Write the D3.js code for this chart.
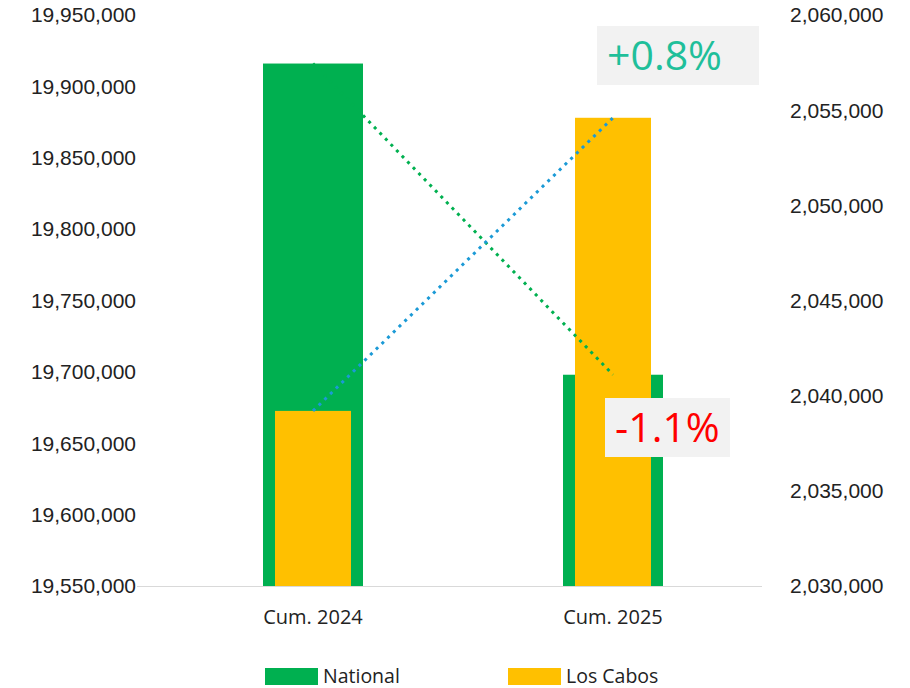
<!DOCTYPE html>
<html lang="en">
<head>
    <meta charset="UTF-8">
    <title>National vs Los Cabos</title>
    <script src="https://d3js.org/d3.v7.min.js"></script>
    <style>
        body {
            margin: 0;
            background-color: #ffffff;
            font-family: "Liberation Sans", Arial, sans-serif;
        }
        .tick-label {
            font-size: 21px;
            fill: #222;
        }
        .cat-label {
            font-family: "Open Sans", sans-serif;
            font-size: 20px;
            fill: #222;
        }
        .legend {
            font-family: "Open Sans", sans-serif;
            font-size: 19.5px;
            fill: #222;
        }
    </style>
</head>
<body>
    <svg width="910" height="688"></svg>
    <script>
        // Data
        const categories = ["Cum. 2024", "Cum. 2025"];
        const nationalValues = [19916000, 19698000];
        const losCabosValues = [2039200, 2054600];
        const leftTicks = [19550000, 19600000, 19650000, 19700000, 19750000, 19800000, 19850000, 19900000, 19950000];
        const rightTicks = [2030000, 2035000, 2040000, 2045000, 2050000, 2055000, 2060000];
        const changeLabels = ["+0.8%", "-1.1%"];

        const svg = d3.select("svg");

        const plotTop = 15, plotBottom = 586;

        // Scales
        const x = d3.scaleBand()
                    .domain(categories)
                    .range([163, 763]);

        const yLeft = d3.scaleLinear()
                        .domain([19550000, 19950000])
                        .range([plotBottom, plotTop]);

        const yRight = d3.scaleLinear()
                         .domain([2030000, 2060000])
                         .range([plotBottom, plotTop]);

        const fmt = d3.format(",");

        // Left axis labels
        svg.append("g")
           .selectAll("text")
           .data(leftTicks)
           .enter()
           .append("text")
           .attr("class", "tick-label")
           .attr("x", 136)
           .attr("y", d => yLeft(d))
           .attr("dy", "0.35em")
           .attr("text-anchor", "end")
           .text(d => fmt(d));

        // Right axis labels
        svg.append("g")
           .selectAll("text")
           .data(rightTicks)
           .enter()
           .append("text")
           .attr("class", "tick-label")
           .attr("x", 790)
           .attr("y", d => yRight(d))
           .attr("dy", "0.35em")
           .attr("text-anchor", "start")
           .text(d => fmt(d));

        const cx = d => x(d) + x.bandwidth() / 2;

        // National bars (primary axis)
        svg.append("g")
           .selectAll("rect")
           .data(categories)
           .enter()
           .append("rect")
           .attr("x", d => cx(d) - 50)
           .attr("width", 100)
           .attr("y", (d, i) => yLeft(nationalValues[i]))
           .attr("height", (d, i) => plotBottom - yLeft(nationalValues[i]))
           .attr("fill", "#00b050");

        // Los Cabos bars (secondary axis)
        svg.append("g")
           .selectAll("rect")
           .data(categories)
           .enter()
           .append("rect")
           .attr("x", d => cx(d) - 38)
           .attr("width", 76)
           .attr("y", (d, i) => yRight(losCabosValues[i]))
           .attr("height", (d, i) => plotBottom - yRight(losCabosValues[i]))
           .attr("fill", "#ffc000");

        // Baseline
        svg.append("line")
           .attr("x1", 137)
           .attr("x2", 762)
           .attr("y1", plotBottom + 0.5)
           .attr("y2", plotBottom + 0.5)
           .attr("stroke", "#d9d9d9")
           .attr("stroke-width", 1);

        // Dotted trend lines
        svg.append("path")
           .datum(categories)
           .attr("d", d3.line().x(d => cx(d)).y((d, i) => yLeft(nationalValues[i])))
           .attr("fill", "none")
           .attr("stroke", "#00b050")
           .attr("stroke-width", 3)
           .attr("stroke-dasharray", "3 5");

        svg.append("path")
           .datum(categories)
           .attr("d", d3.line().x(d => cx(d)).y((d, i) => yRight(losCabosValues[i])))
           .attr("fill", "none")
           .attr("stroke", "#1b9ad6")
           .attr("stroke-width", 3)
           .attr("stroke-dasharray", "3 5");

        // Change labels
        const boxes = [
            {text: changeLabels[0], x: 597, y: 26, w: 162, h: 59, color: "#1fbf9a"},
            {text: changeLabels[1], x: 605, y: 398, w: 125, h: 59, color: "#ff0000"}
        ];
        const boxG = svg.append("g")
                        .selectAll("g")
                        .data(boxes)
                        .enter()
                        .append("g");
        boxG.append("rect")
            .attr("x", d => d.x)
            .attr("y", d => d.y)
            .attr("width", d => d.w)
            .attr("height", d => d.h)
            .attr("fill", "#f2f2f2");
        boxG.append("text")
            .attr("x", d => d.x + 10)
            .attr("y", d => d.y + d.h / 2)
            .attr("dy", "0.36em")
            .style("font-size", "41px")
            .style("font-family", "'Open Sans', sans-serif")
            .style("fill", d => d.color)
            .text(d => d.text);

        // Category labels
        svg.append("g")
           .selectAll("text")
           .data(categories)
           .enter()
           .append("text")
           .attr("class", "cat-label")
           .attr("x", d => cx(d))
           .attr("y", 617)
           .attr("dy", "0.35em")
           .attr("text-anchor", "middle")
           .text(d => d);

        // Legend
        const legendData = [
            {name: "National", color: "#00b050", x: 265},
            {name: "Los Cabos", color: "#ffc000", x: 508}
        ];
        const legendItems = svg.append("g")
                               .selectAll("g")
                               .data(legendData)
                               .enter()
                               .append("g")
                               .attr("transform", d => `translate(${d.x}, 668)`);
        legendItems.append("rect")
                   .attr("width", 53)
                   .attr("height", 17)
                   .attr("fill", d => d.color);
        legendItems.append("text")
                   .attr("class", "legend")
                   .attr("x", 58)
                   .attr("y", 8)
                   .attr("dy", "0.35em")
                   .text(d => d.name);
    </script>
</body>
</html>
